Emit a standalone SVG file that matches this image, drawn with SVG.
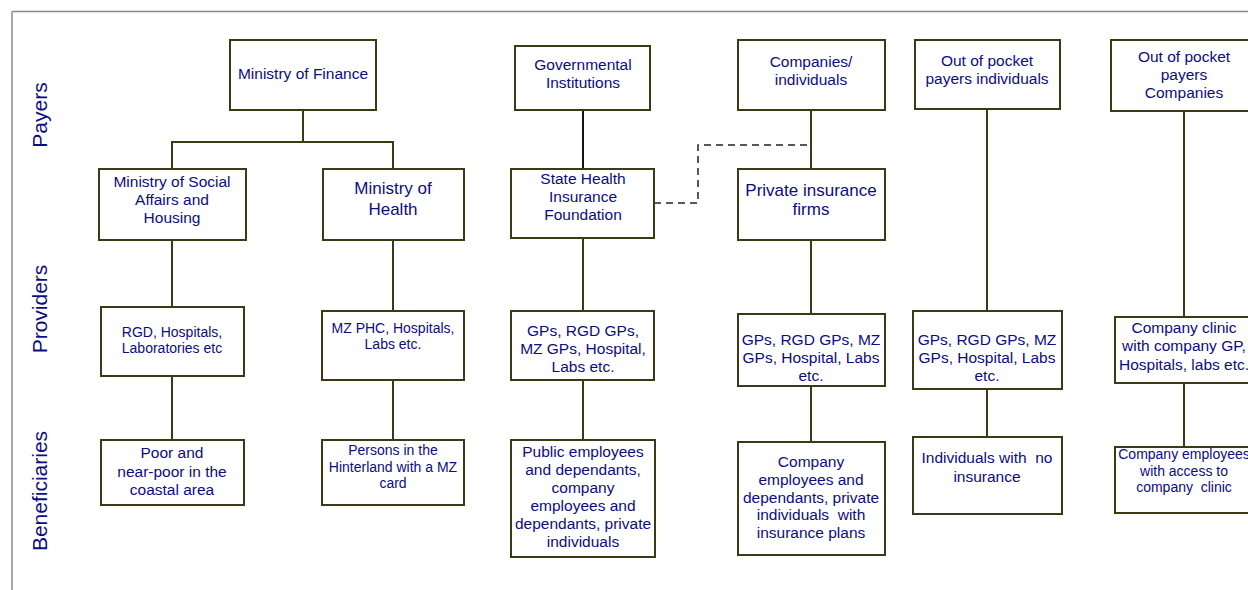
<svg xmlns="http://www.w3.org/2000/svg" width="1248" height="590" viewBox="0 0 1248 590">
<style>
.box{fill:#fff;stroke:#3c3a14;stroke-width:2}
.con{fill:none;stroke:#3c3a14;stroke-width:2}
.dash{fill:none;stroke:#222;stroke-width:1.5;stroke-dasharray:7,5}
text{font-family:"Liberation Sans",Arial,sans-serif;fill:#0c0c84;text-anchor:middle;white-space:pre}
.t{font-size:15.5px}
.s{font-size:14px}
.l{font-size:17px}
.side{font-size:21px}
</style>
<rect x="0" y="0" width="1248" height="590" fill="#fff"/>
<g id="frame">
<path d="M12 11.5 H1248 M12 11.5 V590" fill="none" stroke="#8a8a8a" stroke-width="1.5"/>
</g>
<g id="labels">
<text class="side" transform="translate(47,115) rotate(-90)">Payers</text>
<text class="side" transform="translate(47,309) rotate(-90)">Providers</text>
<text class="side" transform="translate(47,491) rotate(-90)">Beneficiaries</text>
</g>
<g id="connectors">
<path class="con" d="M303 110 V142 H172 V169 M303 142 H393 V169"/>
<path class="con" d="M172 240 V307 M172 376 V440"/>
<path class="con" d="M393 240 V311 M393 380 V440"/>
<path class="con" d="M583 110 V169" style="stroke:#151515"/>
<path class="con" d="M583 238 V311 M583 380 V440"/>
<path class="con" d="M811 110 V169 M811 240 V314 M811 386 V442"/>
<path class="dash" d="M654 203 H698 V145 H811"/>
<path class="con" d="M987 109 V311 M987 389 V437"/>
<path class="con" d="M1184 111 V317 M1184 383 V447"/>
</g>
<g id="mof"><rect class="box" x="230" y="40" width="146" height="70"/><text class="t" x="303" y="79">Ministry of Finance</text></g>
<g id="msah"><rect class="box" x="99" y="169" width="147" height="71"/><text class="t" x="172" y="187">Ministry of Social</text><text class="t" x="172" y="205">Affairs and</text><text class="t" x="172" y="223">Housing</text></g>
<g id="moh"><rect class="box" x="323" y="169" width="141" height="71"/><text class="l" x="393" y="194">Ministry of</text><text class="l" x="393" y="215">Health</text></g>
<g id="gov"><rect class="box" x="515" y="46" width="135" height="64"/><text class="t" x="583" y="70">Governmental</text><text class="t" x="583" y="88">Institutions</text></g>
<g id="shif"><rect class="box" x="511" y="169" width="143" height="69"/><text class="t" x="583" y="184">State Health</text><text class="t" x="583" y="202">Insurance</text><text class="t" x="583" y="220">Foundation</text></g>
<g id="comp"><rect class="box" x="738" y="40" width="147" height="70"/><text class="t" x="811" y="67">Companies/</text><text class="t" x="811" y="85">individuals</text></g>
<g id="pif"><rect class="box" x="738" y="169" width="147" height="71"/><text class="l" x="811" y="196">Private insurance</text><text class="l" x="811" y="215">firms</text></g>
<g id="oopi"><rect class="box" x="915" y="40" width="145" height="69"/><text class="t" x="987" y="66">Out of pocket</text><text class="t" x="987" y="84">payers individuals</text></g>
<g id="oopc"><rect class="box" x="1111" y="40" width="150" height="71"/><text class="t" x="1184" y="62">Out of pocket</text><text class="t" x="1184" y="80">payers</text><text class="t" x="1184" y="98">Companies</text></g>
<g id="p1"><rect class="box" x="101" y="307" width="143" height="69"/><text class="s" x="172" y="337">RGD, Hospitals,</text><text class="s" x="172" y="353">Laboratories etc</text></g>
<g id="p2"><rect class="box" x="322" y="311" width="142" height="69"/><text class="s" x="393" y="333">MZ PHC, Hospitals,</text><text class="s" x="393" y="349">Labs etc.</text></g>
<g id="p3"><rect class="box" x="511" y="311" width="143" height="69"/><text class="t" x="583" y="336">GPs, RGD GPs,</text><text class="t" x="583" y="354">MZ GPs, Hospital,</text><text class="t" x="583" y="372">Labs etc.</text></g>
<g id="p4"><rect class="box" x="738" y="314" width="147" height="72"/><text class="t" x="811" y="345">GPs, RGD GPs, MZ</text><text class="t" x="811" y="363">GPs, Hospital, Labs</text><text class="t" x="811" y="381">etc.</text></g>
<g id="p5"><rect class="box" x="913" y="311" width="149" height="78"/><text class="t" x="987" y="345">GPs, RGD GPs, MZ</text><text class="t" x="987" y="363">GPs, Hospital, Labs</text><text class="t" x="987" y="381">etc.</text></g>
<g id="p6"><rect class="box" x="1115" y="317" width="146" height="66"/><text class="t" x="1184" y="333">Company clinic</text><text class="t" x="1184" y="351">with company GP,</text><text class="t" x="1184" y="370">Hospitals, labs etc.</text></g>
<g id="b1"><rect class="box" x="101" y="440" width="143" height="65"/><text class="t" x="172" y="458">Poor and</text><text class="t" x="172" y="477">near-poor in the</text><text class="t" x="172" y="495">coastal area</text></g>
<g id="b2"><rect class="box" x="322" y="440" width="142" height="65"/><text class="s" x="393" y="455">Persons in the</text><text class="s" x="393" y="472">Hinterland with a MZ</text><text class="s" x="393" y="488">card</text></g>
<g id="b3"><rect class="box" x="511" y="440" width="144" height="117"/><text class="t" x="583" y="457">Public employees</text><text class="t" x="583" y="475">and dependants,</text><text class="t" x="583" y="493">company</text><text class="t" x="583" y="511">employees and</text><text class="t" x="583" y="529">dependants, private</text><text class="t" x="583" y="547">individuals</text></g>
<g id="b4"><rect class="box" x="738" y="442" width="147" height="113"/><text class="t" x="811" y="467">Company</text><text class="t" x="811" y="485">employees and</text><text class="t" x="811" y="503">dependants, private</text><text class="t" x="811" y="520">individuals  with</text><text class="t" x="811" y="538">insurance plans</text></g>
<g id="b5"><rect class="box" x="913" y="437" width="149" height="77"/><text class="t" x="987" y="463">Individuals with  no</text><text class="t" x="987" y="482">insurance</text></g>
<g id="b6"><rect class="box" x="1115" y="447" width="146" height="66"/><text class="s" x="1184" y="459">Company employees</text><text class="s" x="1184" y="476">with access to</text><text class="s" x="1184" y="492">company  clinic</text></g>
</svg>
